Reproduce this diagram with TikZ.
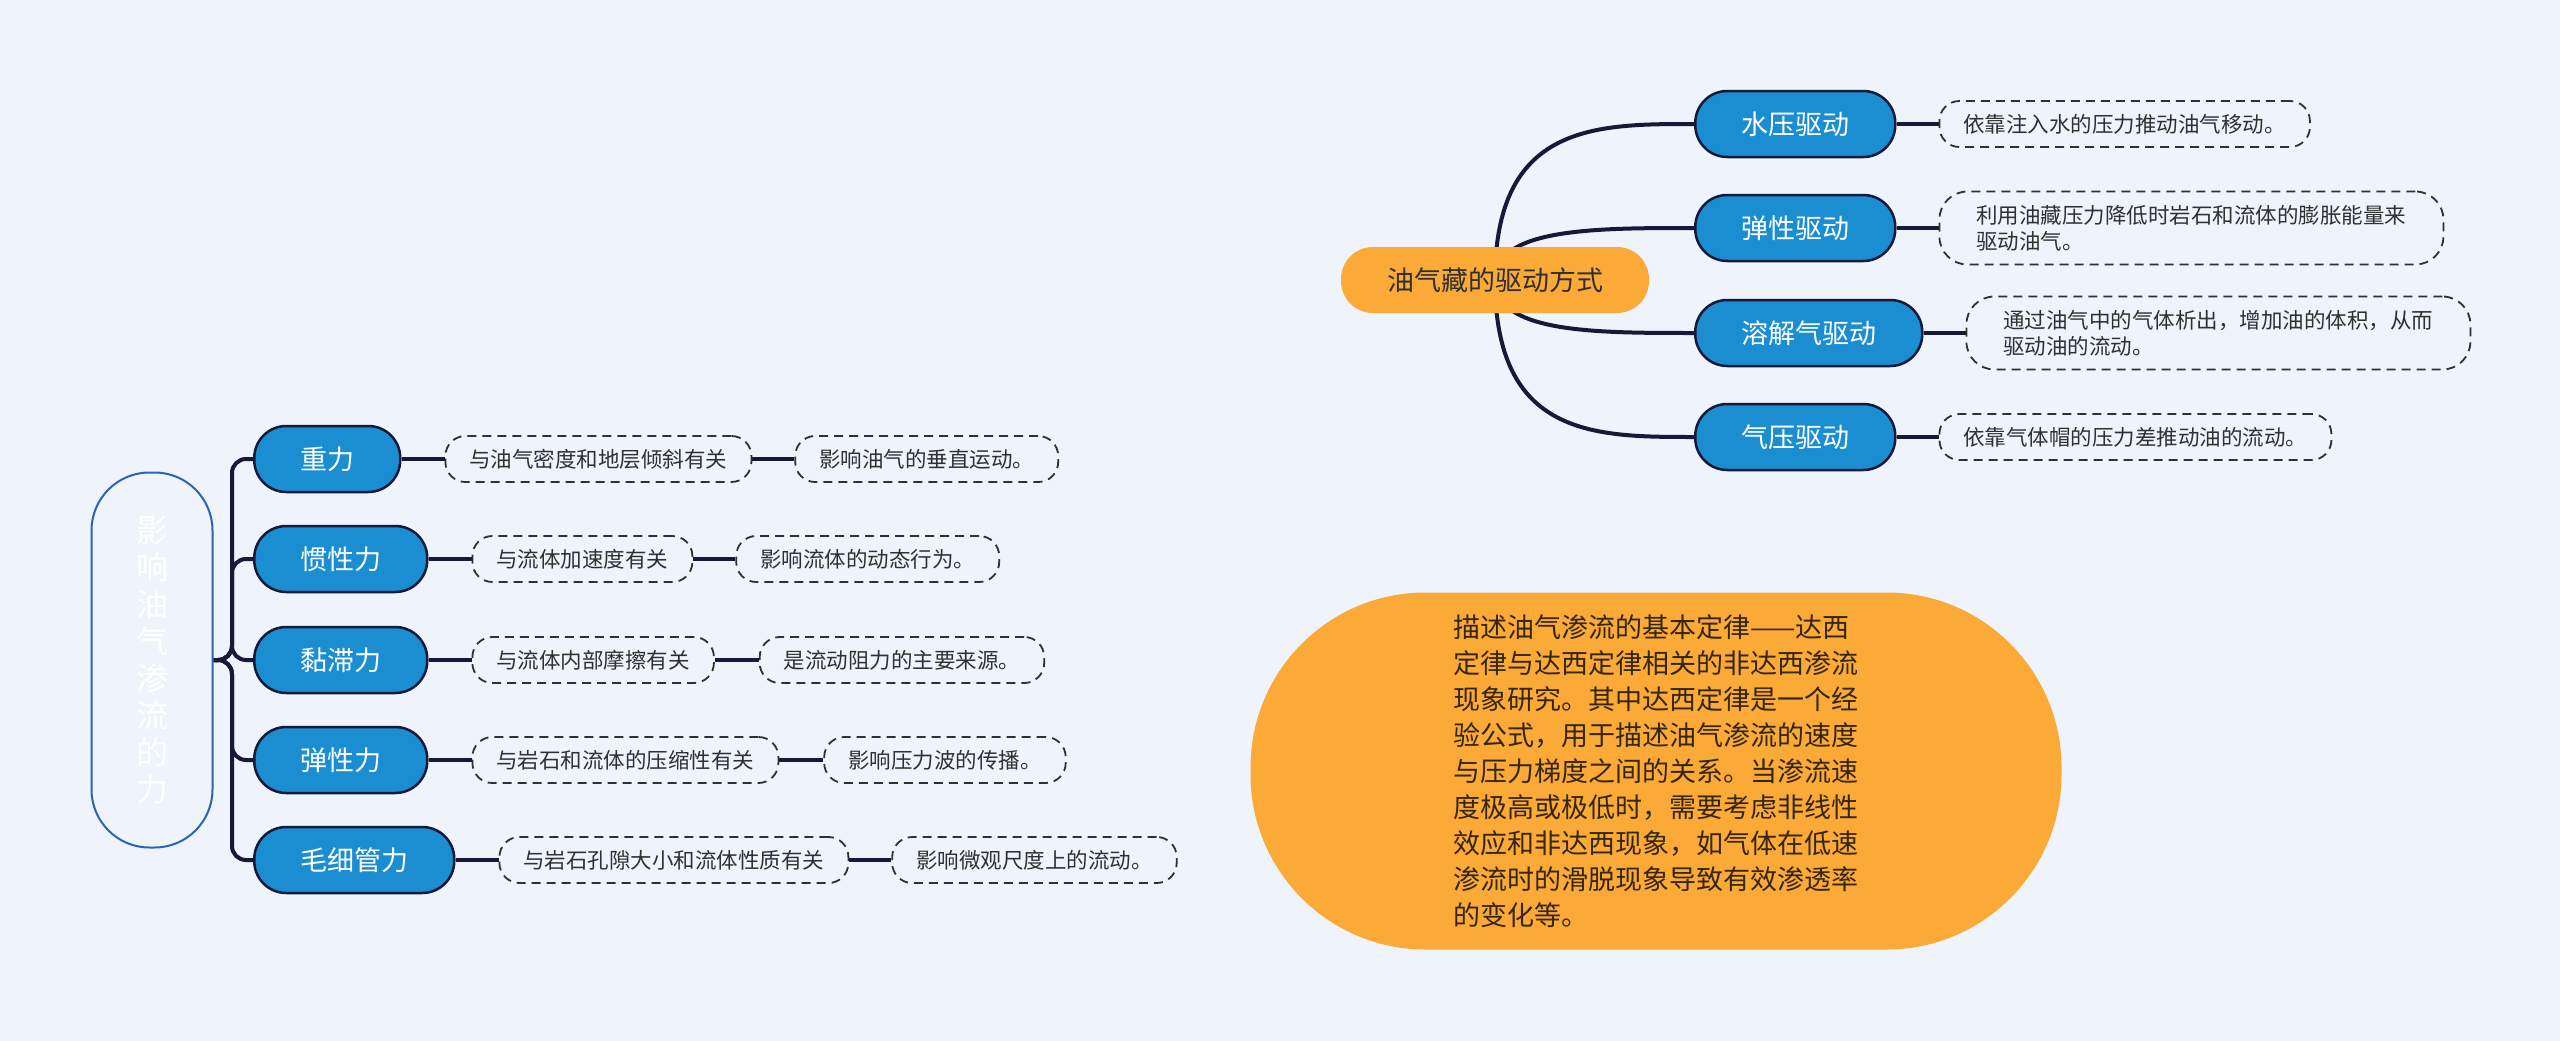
\documentclass[tikz,border=0pt]{standalone}
\usepackage{fontspec}
\newfontfamily\cjk{Noto Sans CJK SC}
\usepackage{tikz}
\usetikzlibrary{positioning,backgrounds,calc}
\definecolor{bgc}{HTML}{EEF3FC}
\definecolor{linkc}{HTML}{151A3A}
\definecolor{topicc}{HTML}{1B8ED2}
\definecolor{orangec}{HTML}{FBA937}
\definecolor{rootc}{HTML}{2C63B0}
\definecolor{textc}{HTML}{303030}
\definecolor{darkc}{HTML}{35260F}

\begin{document}
\begin{tikzpicture}[
    x=1pt, y=-1pt,
    link/.style={line width=4pt, linkc},
    topic/.style={font=\cjk\fontsize{27}{32}\selectfont, text=white, fill=topicc,
      draw=linkc, line width=2.5pt, rounded corners=32pt, minimum height=66pt,
      inner xsep=46pt, inner ysep=0pt},
    note/.style={font=\cjk\fontsize{21.5}{26}\selectfont, text=textc, fill=bgc,
      draw=textc, line width=1.8pt, dash pattern=on 9pt off 6pt,
      rounded corners=20pt, minimum height=46pt, inner xsep=24pt, inner ysep=0pt},
    notetwo/.style={note, align=left, rounded corners=28pt, inner xsep=37pt,
      minimum height=73pt},
  ]
    \useasboundingbox (0,0) rectangle (2560,1041);

    % ===== LEFT: forces on the flow =====
    \node[draw=rootc, line width=2pt, fill=bgc, rounded corners=58pt,
      minimum width=121pt, minimum height=375pt, text=white, align=center,
      font=\cjk\fontsize{32}{37}\selectfont] (root) at (152,660)
      {影\\响\\油\\气\\渗\\流\\的\\力};
    \coordinate (spine) at (232,660);

    \node[topic, anchor=west] (zhongli)  at (253,459) {重力};
    \node[topic, anchor=west] (guanxing) at (253,559) {惯性力};
    \node[topic, anchor=west] (nianzhi)  at (253,660) {黏滞力};
    \node[topic, anchor=west] (tanxing)  at (253,760) {弹性力};
    \node[topic, anchor=west] (maoxi)    at (253,860) {毛细管力};

    % notes, two per force
    \node[note, right=43pt of zhongli]  (zl1) {与油气密度和地层倾斜有关};
    \node[note, right=42pt of zl1]      (zl2) {影响油气的垂直运动。};
    \node[note, right=43pt of guanxing] (gx1) {与流体加速度有关};
    \node[note, right=42pt of gx1]      (gx2) {影响流体的动态行为。};
    \node[note, right=43pt of nianzhi]  (nz1) {与流体内部摩擦有关};
    \node[note, right=44pt of nz1]      (nz2) {是流动阻力的主要来源。};
    \node[note, right=43pt of tanxing]  (tx1) {与岩石和流体的压缩性有关};
    \node[note, right=44pt of tx1]      (tx2) {影响压力波的传播。};
    \node[note, right=43pt of maoxi]    (mx1) {与岩石孔隙大小和流体性质有关};
    \node[note, right=42pt of mx1]      (mx2) {影响微观尺度上的流动。};

    % ===== RIGHT TOP: drive mechanisms =====
    \node[topic, fill=orangec, draw=none, text=textc] (qudong) at (1495,280)
      {油气藏的驱动方式};

    \node[topic, anchor=west] (shuiya)    at (1694,124) {水压驱动};
    \node[topic, anchor=west] (tanxingqd) at (1694,228) {弹性驱动};
    \node[topic, anchor=west] (rongjie)   at (1694,333) {溶解气驱动};
    \node[topic, anchor=west] (qiya)      at (1694,437) {气压驱动};

    \node[note, right=42pt of shuiya] (sy1) {依靠注入水的压力推动油气移动。};
    \node[notetwo, right=42pt of tanxingqd] (tq1)
      {利用油藏压力降低时岩石和流体的膨胀能量来\\驱动油气。};
    \node[notetwo, right=42pt of rongjie] (rj1)
      {通过油气中的气体析出，增加油的体积，从而\\驱动油的流动。};
    \node[note, right=42pt of qiya] (qy1) {依靠气体帽的压力差推动油的流动。};

    % ===== RIGHT BOTTOM: Darcy law note =====
    \node[fill=orangec, rounded corners=175pt, minimum width=811pt,
      minimum height=357pt, text=darkc, align=left,
      font=\cjk\fontsize{27}{36}\selectfont] (darcy) at (1656,771)
      {描述油气渗流的基本定律——达西\\
       定律与达西定律相关的非达西渗流\\
       现象研究。其中达西定律是一个经\\
       验公式，用于描述油气渗流的速度\\
       与压力梯度之间的关系。当渗流速\\
       度极高或极低时，需要考虑非线性\\
       效应和非达西现象，如气体在低速\\
       渗流时的滑脱现象导致有效渗透率\\
       的变化等。};

    % ===== connectors (behind the nodes) =====
    \begin{scope}[on background layer]
      \fill[bgc] (0,0) rectangle (2560,1041);

      \foreach \t in {zhongli,guanxing,nianzhi,tanxing,maoxi}{
        \draw[link, rounded corners=14pt] (root.east) -- (spine) |- (\t.west);
      }
      \foreach \a/\b in {zhongli/zl1, zl1/zl2, guanxing/gx1, gx1/gx2,
        nianzhi/nz1, nz1/nz2, tanxing/tx1, tx1/tx2, maoxi/mx1, mx1/mx2,
        shuiya/sy1, tanxingqd/tq1, rongjie/rj1, qiya/qy1}{
        \draw[link] (\a.east) -- (\b.west);
      }

      % curved links from the drive node
      \foreach \t in {shuiya,tanxingqd,rongjie,qiya}{
        \draw[link] (qudong.center) .. controls (qudong.center |- \t.west)
          and ($(qudong.center |- \t.west)!0.5!(\t.west)$) .. (\t.west);
      }
    \end{scope}

\end{tikzpicture}
\end{document}
